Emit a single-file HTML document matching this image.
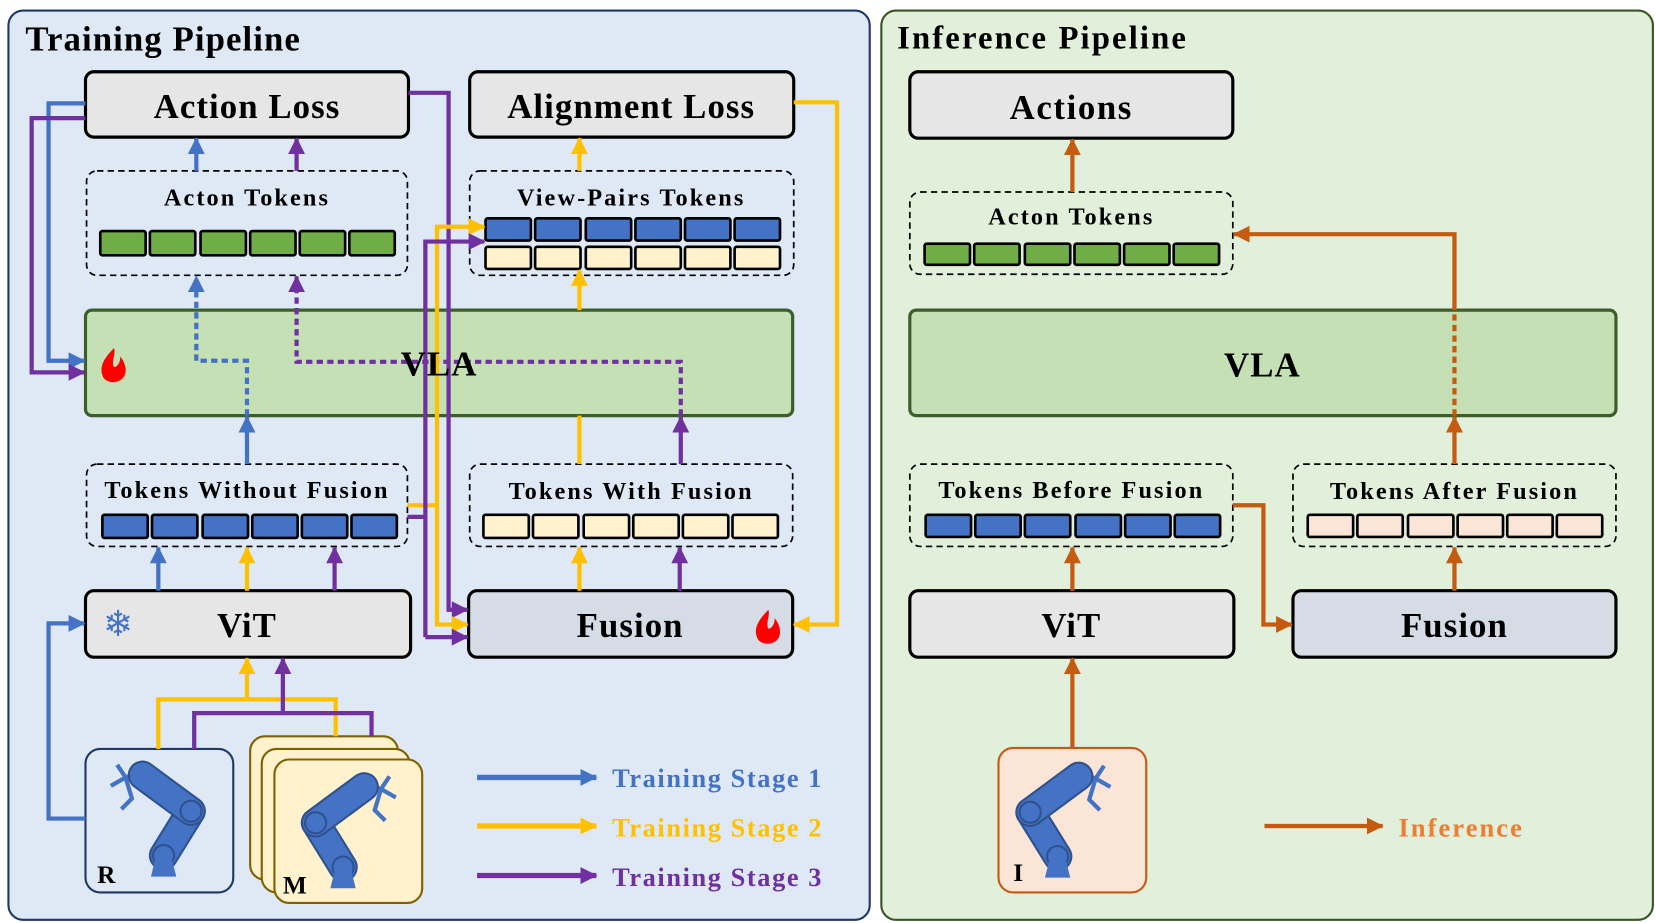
<!DOCTYPE html>
<html><head><meta charset="utf-8"><style>
html,body{margin:0;padding:0;background:#fff}
svg{display:block}
text{font-family:"Liberation Serif",serif;font-weight:bold}
.tok{letter-spacing:2px}
.big{letter-spacing:1px}
.leg{letter-spacing:1.5px}
.ttl{letter-spacing:2px}
</style></head><body>
<svg width="1655" height="923" viewBox="0 0 1568 875" preserveAspectRatio="none" xmlns="http://www.w3.org/2000/svg">
<defs>
<marker id="ab" markerUnits="userSpaceOnUse" markerWidth="16" markerHeight="16" refX="15" refY="8" orient="auto"><path d="M0,0 L16,8 L0,16 z" fill="#4472c4"/></marker>
<marker id="ay" markerUnits="userSpaceOnUse" markerWidth="16" markerHeight="16" refX="15" refY="8" orient="auto"><path d="M0,0 L16,8 L0,16 z" fill="#ffc000"/></marker>
<marker id="ap" markerUnits="userSpaceOnUse" markerWidth="16" markerHeight="16" refX="15" refY="8" orient="auto"><path d="M0,0 L16,8 L0,16 z" fill="#7030a0"/></marker>
<marker id="ao" markerUnits="userSpaceOnUse" markerWidth="16" markerHeight="16" refX="15" refY="8" orient="auto"><path d="M0,0 L16,8 L0,16 z" fill="#c55a11"/></marker>
<g id="robot">
 <path d="M-44,-50 L-36,-38 L-50,-30 M-36,-38 L-30,-18 L-40,-8 M-36,-38 L-24,-42" stroke="#4472c4" stroke-width="4" fill="none"/>
 <line x1="0" y1="36" x2="26" y2="-6" stroke="#2f528f" stroke-width="28" stroke-linecap="round"/>
 <line x1="0" y1="36" x2="26" y2="-6" stroke="#4472c4" stroke-width="24" stroke-linecap="round"/>
 <line x1="26" y1="-6" x2="-20" y2="-40" stroke="#2f528f" stroke-width="28" stroke-linecap="round"/>
 <line x1="26" y1="-6" x2="-20" y2="-40" stroke="#4472c4" stroke-width="24" stroke-linecap="round"/>
 <circle cx="26" cy="-6" r="10" fill="none" stroke="#2f528f" stroke-width="2"/>
 <circle cx="0" cy="36" r="10" fill="none" stroke="#2f528f" stroke-width="2"/>
 <path d="M-12,56 L-8,40 L8,40 L12,56 z" fill="#4472c4"/>
</g>
<path id="flame" d="M0,-16 C-12,-4 -14,4 -10,12 C-6,18 6,18 10,10 C13,3 9,-4 6,-8 C6,-2 3,2 0,2 C-3,-4 2,-10 0,-16 z" fill="#ff0000"/>
</defs>

<rect x="8" y="10" width="816" height="862" rx="14" fill="#dee9f5" stroke="#1f3864" stroke-width="2"/>
<text x="24" y="48" font-size="33" class="big">Training Pipeline</text>

<rect x="835" y="10" width="731" height="862" rx="14" fill="#e2efda" stroke="#375623" stroke-width="2"/>
<text x="850" y="46" font-size="31" class="ttl">Inference Pipeline</text>

<rect x="81" y="68" width="306" height="62" rx="8" fill="#e6e6e6" stroke="#000" stroke-width="3"/>
<text x="234" y="112" font-size="33" text-anchor="middle" class="big">Action Loss</text>
<rect x="445" y="68" width="307" height="62" rx="8" fill="#e6e6e6" stroke="#000" stroke-width="3"/>
<text x="598" y="112" font-size="33" text-anchor="middle" class="big">Alignment Loss</text>

<rect x="82" y="162" width="304" height="99" rx="10" fill="none" stroke="#000" stroke-width="1.6" stroke-dasharray="6 4"/>
<text x="234" y="195" font-size="23" text-anchor="middle" class="tok">Acton Tokens</text>
<g fill="#70ad47" stroke="#000" stroke-width="2.5">
<rect x="95" y="219" width="43" height="23" rx="2"/><rect x="142" y="219" width="43" height="23" rx="2"/><rect x="190" y="219" width="43" height="23" rx="2"/><rect x="237" y="219" width="43" height="23" rx="2"/><rect x="284" y="219" width="43" height="23" rx="2"/><rect x="331" y="219" width="43" height="23" rx="2"/>
</g>

<rect x="445" y="162" width="307" height="99" rx="10" fill="none" stroke="#000" stroke-width="1.6" stroke-dasharray="6 4"/>
<text x="598" y="195" font-size="23" text-anchor="middle" class="tok">View-Pairs Tokens</text>
<g fill="#4472c4" stroke="#000" stroke-width="2.5">
<rect x="460" y="207" width="43" height="21" rx="2"/><rect x="507" y="207" width="43" height="21" rx="2"/><rect x="555" y="207" width="43" height="21" rx="2"/><rect x="602" y="207" width="43" height="21" rx="2"/><rect x="649" y="207" width="43" height="21" rx="2"/><rect x="696" y="207" width="43" height="21" rx="2"/>
</g>
<g fill="#fff2cc" stroke="#000" stroke-width="2.5">
<rect x="460" y="234" width="43" height="21" rx="2"/><rect x="507" y="234" width="43" height="21" rx="2"/><rect x="555" y="234" width="43" height="21" rx="2"/><rect x="602" y="234" width="43" height="21" rx="2"/><rect x="649" y="234" width="43" height="21" rx="2"/><rect x="696" y="234" width="43" height="21" rx="2"/>
</g>

<rect x="81" y="294" width="670" height="100" rx="6" fill="#c5e0b4" stroke="#3b5e2b" stroke-width="3"/>
<use href="#flame" transform="translate(108,346)"/>

<rect x="82" y="440" width="304" height="78" rx="10" fill="none" stroke="#000" stroke-width="1.6" stroke-dasharray="6 4"/>
<text x="234" y="472" font-size="23" text-anchor="middle" class="tok">Tokens  Without  Fusion</text>
<g fill="#4472c4" stroke="#000" stroke-width="2.5">
<rect x="97" y="488" width="43" height="22" rx="2"/><rect x="144" y="488" width="43" height="22" rx="2"/><rect x="192" y="488" width="43" height="22" rx="2"/><rect x="239" y="488" width="43" height="22" rx="2"/><rect x="286" y="488" width="43" height="22" rx="2"/><rect x="333" y="488" width="43" height="22" rx="2"/>
</g>
<rect x="445" y="440" width="306" height="78" rx="10" fill="none" stroke="#000" stroke-width="1.6" stroke-dasharray="6 4"/>
<text x="598" y="473" font-size="23" text-anchor="middle" class="tok">Tokens  With  Fusion</text>
<g fill="#fff2cc" stroke="#000" stroke-width="2.5">
<rect x="458" y="488" width="43" height="22" rx="2"/><rect x="505" y="488" width="43" height="22" rx="2"/><rect x="553" y="488" width="43" height="22" rx="2"/><rect x="600" y="488" width="43" height="22" rx="2"/><rect x="647" y="488" width="43" height="22" rx="2"/><rect x="694" y="488" width="43" height="22" rx="2"/>
</g>

<rect x="81" y="560" width="308" height="63" rx="8" fill="#e6e6e6" stroke="#000" stroke-width="3"/>
<text x="234" y="604" font-size="33" text-anchor="middle" class="big">ViT</text>
<text x="112" y="603" font-size="34" fill="#4472c4" text-anchor="middle" style="font-family:'DejaVu Sans',sans-serif">❄</text>
<rect x="444" y="560" width="307" height="63" rx="8" fill="#d6dce5" stroke="#000" stroke-width="3"/>
<text x="597" y="604" font-size="33" text-anchor="middle" class="big">Fusion</text>
<use href="#flame" transform="translate(728,594)"/>

<rect x="81" y="710" width="140" height="136" rx="14" fill="#dee9f5" stroke="#1f3864" stroke-width="2"/>
<use href="#robot" transform="translate(155,775)"/>
<text x="92" y="837" font-size="24">R</text>
<rect x="237" y="698" width="140" height="136" rx="14" fill="#fff2cc" stroke="#7f6000" stroke-width="2"/>
<rect x="248" y="710" width="140" height="136" rx="14" fill="#fff2cc" stroke="#7f6000" stroke-width="2"/>
<rect x="260" y="720" width="140" height="136" rx="14" fill="#fff2cc" stroke="#7f6000" stroke-width="2"/>
<use href="#robot" transform="translate(325,786) scale(-1,1)"/>
<text x="268" y="847" font-size="24">M</text>

<line x1="452" y1="737" x2="565" y2="737" stroke="#4472c4" stroke-width="5" marker-end="url(#ab)"/>
<line x1="452" y1="783" x2="565" y2="783" stroke="#ffc000" stroke-width="5" marker-end="url(#ay)"/>
<line x1="452" y1="830" x2="565" y2="830" stroke="#7030a0" stroke-width="5" marker-end="url(#ap)"/>
<text x="580" y="746" font-size="25" fill="#4472c4" class="leg">Training  Stage  1</text>
<text x="580" y="793" font-size="25" fill="#ffc000" class="leg">Training  Stage  2</text>
<text x="580" y="840" font-size="25" fill="#7030a0" class="leg">Training  Stage  3</text>

<g fill="none" stroke-width="4">
<polyline points="81,98 46,98 46,342 80,342" stroke="#4472c4" marker-end="url(#ab)"/>
<polyline points="81,112 30,112 30,353 80,353" stroke="#7030a0" marker-end="url(#ap)"/>
<line x1="186" y1="162" x2="186" y2="131" stroke="#4472c4" marker-end="url(#ab)"/>
<line x1="281" y1="162" x2="281" y2="131" stroke="#7030a0" marker-end="url(#ap)"/>
<line x1="549" y1="162" x2="549" y2="131" stroke="#ffc000" marker-end="url(#ay)"/>
<line x1="549" y1="294" x2="549" y2="256" stroke="#ffc000" marker-end="url(#ay)"/>
<line x1="549" y1="440" x2="549" y2="394" stroke="#ffc000"/>
<polyline points="234,394 234,342 186,342 186,262" stroke="#4472c4" stroke-dasharray="6 4" marker-end="url(#ab)"/>
<line x1="234" y1="440" x2="234" y2="395" stroke="#4472c4" marker-end="url(#ab)"/>
<polyline points="645,394 645,343 281,343 281,262" stroke="#7030a0" stroke-dasharray="6 4" marker-end="url(#ap)"/>
<line x1="645" y1="440" x2="645" y2="395" stroke="#7030a0" marker-end="url(#ap)"/>
<polyline points="752,97 793,97 793,592 752,592" stroke="#ffc000" marker-end="url(#ay)"/>
<polyline points="387,88 425,88 425,578 443,578" stroke="#7030a0" marker-end="url(#ap)"/>
<polyline points="414,215 414,592 443,592" stroke="#ffc000" marker-end="url(#ay)"/>
<line x1="412" y1="215" x2="459" y2="215" stroke="#ffc000" marker-end="url(#ay)"/>
<line x1="386" y1="479" x2="414" y2="479" stroke="#ffc000"/>
<polyline points="403,604 403,229 459,229" stroke="#7030a0" marker-end="url(#ap)"/>
<line x1="403" y1="604" x2="443" y2="604" stroke="#7030a0" marker-end="url(#ap)"/>
<line x1="386" y1="490" x2="403" y2="490" stroke="#7030a0"/>
<line x1="150" y1="560" x2="150" y2="519" stroke="#4472c4" marker-end="url(#ab)"/>
<line x1="234" y1="560" x2="234" y2="519" stroke="#ffc000" marker-end="url(#ay)"/>
<line x1="317" y1="560" x2="317" y2="519" stroke="#7030a0" marker-end="url(#ap)"/>
<line x1="549" y1="560" x2="549" y2="519" stroke="#ffc000" marker-end="url(#ay)"/>
<line x1="644" y1="560" x2="644" y2="519" stroke="#7030a0" marker-end="url(#ap)"/>
<polyline points="150,710 150,663 318,663 318,698" stroke="#ffc000"/>
<line x1="234" y1="663" x2="234" y2="624" stroke="#ffc000" marker-end="url(#ay)"/>
<polyline points="184,710 184,676 352,676 352,698" stroke="#7030a0"/>
<line x1="268" y1="676" x2="268" y2="624" stroke="#7030a0" marker-end="url(#ap)"/>
<polyline points="81,776 46,776 46,591 80,591" stroke="#4472c4" marker-end="url(#ab)"/>
</g>
<text x="416" y="356" font-size="33" text-anchor="middle" class="big">VLA</text>

<rect x="862" y="68" width="306" height="63" rx="8" fill="#e6e6e6" stroke="#000" stroke-width="3"/>
<text x="1015" y="113" font-size="33" text-anchor="middle" style="letter-spacing:1.5px">Actions</text>
<rect x="862" y="182" width="306" height="78" rx="10" fill="none" stroke="#000" stroke-width="1.6" stroke-dasharray="6 4"/>
<text x="1015" y="213" font-size="23" text-anchor="middle" class="tok">Acton Tokens</text>
<g fill="#70ad47" stroke="#000" stroke-width="2.5">
<rect x="876" y="231" width="43" height="20" rx="2"/><rect x="923" y="231" width="43" height="20" rx="2"/><rect x="971" y="231" width="43" height="20" rx="2"/><rect x="1018" y="231" width="43" height="20" rx="2"/><rect x="1065" y="231" width="43" height="20" rx="2"/><rect x="1112" y="231" width="43" height="20" rx="2"/>
</g>
<rect x="862" y="294" width="669" height="100" rx="6" fill="#c5e0b4" stroke="#3b5e2b" stroke-width="3"/>
<text x="1196" y="357" font-size="33" text-anchor="middle" class="big">VLA</text>
<rect x="862" y="440" width="306" height="78" rx="10" fill="none" stroke="#000" stroke-width="1.6" stroke-dasharray="6 4"/>
<text x="1015" y="472" font-size="23" text-anchor="middle" class="tok">Tokens  Before  Fusion</text>
<g fill="#4472c4" stroke="#000" stroke-width="2.5">
<rect x="877" y="488" width="43" height="21" rx="2"/><rect x="924" y="488" width="43" height="21" rx="2"/><rect x="971" y="488" width="43" height="21" rx="2"/><rect x="1019" y="488" width="43" height="21" rx="2"/><rect x="1066" y="488" width="43" height="21" rx="2"/><rect x="1113" y="488" width="43" height="21" rx="2"/>
</g>
<rect x="1225" y="440" width="306" height="78" rx="10" fill="none" stroke="#000" stroke-width="1.6" stroke-dasharray="6 4"/>
<text x="1378" y="473" font-size="23" text-anchor="middle" class="tok">Tokens  After  Fusion</text>
<g fill="#fbe5d6" stroke="#000" stroke-width="2.5">
<rect x="1239" y="488" width="43" height="21" rx="2"/><rect x="1286" y="488" width="43" height="21" rx="2"/><rect x="1334" y="488" width="43" height="21" rx="2"/><rect x="1381" y="488" width="43" height="21" rx="2"/><rect x="1428" y="488" width="43" height="21" rx="2"/><rect x="1475" y="488" width="43" height="21" rx="2"/>
</g>
<rect x="862" y="560" width="307" height="63" rx="8" fill="#e6e6e6" stroke="#000" stroke-width="3"/>
<text x="1015" y="604" font-size="33" text-anchor="middle" class="big">ViT</text>
<rect x="1225" y="560" width="306" height="63" rx="8" fill="#d6dce5" stroke="#000" stroke-width="3"/>
<text x="1378" y="604" font-size="33" text-anchor="middle" class="big">Fusion</text>
<rect x="946" y="709" width="140" height="137" rx="14" fill="#fbe5d6" stroke="#c55a11" stroke-width="2"/>
<use href="#robot" transform="translate(1002,776) scale(-1,1)"/>
<text x="960" y="835" font-size="24">I</text>

<g fill="none" stroke="#c55a11" stroke-width="4">
<line x1="1016" y1="182" x2="1016" y2="132" marker-end="url(#ao)"/>
<line x1="1016" y1="709" x2="1016" y2="624" marker-end="url(#ao)"/>
<line x1="1016" y1="560" x2="1016" y2="519" marker-end="url(#ao)"/>
<polyline points="1168,479 1197,479 1197,592 1224,592" marker-end="url(#ao)"/>
<line x1="1378" y1="560" x2="1378" y2="519" marker-end="url(#ao)"/>
<line x1="1378" y1="440" x2="1378" y2="395" marker-end="url(#ao)"/>
<line x1="1378" y1="394" x2="1378" y2="294" stroke-dasharray="6 4"/>
<polyline points="1378,294 1378,222 1169,222" marker-end="url(#ao)"/>
<line x1="1198" y1="783" x2="1310" y2="783" marker-end="url(#ao)"/>
</g>
<text x="1325" y="793" font-size="25" fill="#ed7d31" class="ttl">Inference</text>
</svg>
</body></html>
